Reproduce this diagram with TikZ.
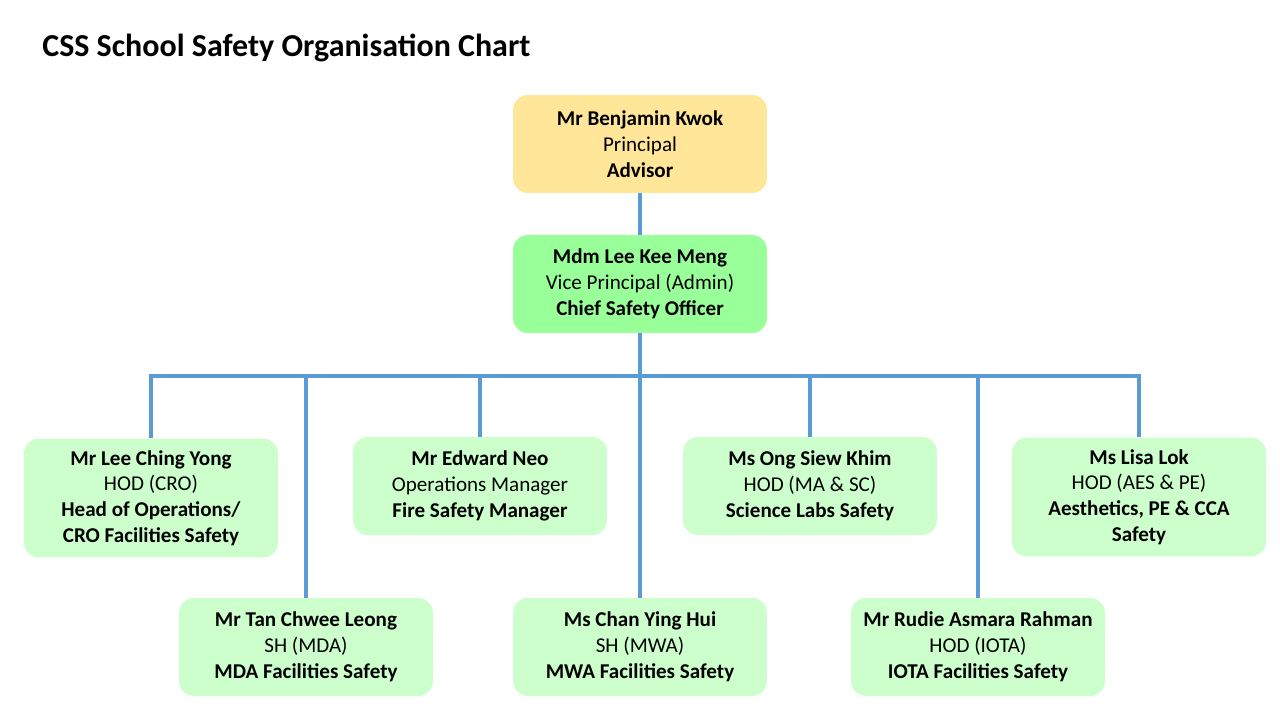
\documentclass[tikz,border=0pt]{standalone}
\usepackage{fontspec}
\setmainfont{Carlito}
\usetikzlibrary{positioning}
\definecolor{boxorange}{HTML}{FFE699}
\definecolor{boxgreen}{HTML}{99FF99}
\definecolor{boxlight}{HTML}{CCFFCC}
\definecolor{linkblue}{HTML}{5B9BD5}

\begin{document}
\begin{tikzpicture}[x=0.02cm, y=-0.02cm,
    card/.style={rectangle, rounded corners=0.3cm, minimum width=5.08cm, minimum height=1.96cm,
        align=center, inner sep=0pt, font=\fontsize{12}{14.7}\selectfont},
    tallcard/.style={card, minimum height=2.38cm},
    link/.style={draw=linkblue, line width=2.3pt}]
    \useasboundingbox (0,0) rectangle (1280,720);

    % Titulo
    \node[anchor=west, inner sep=0pt, font=\fontsize{18.2}{22}\selectfont\bfseries] (title) at (42,48) {CSS School Safety Organisation Chart};

    % Topo
    \node[card, fill=boxorange] (kwok) at (640,144) {\textbf{Mr Benjamin Kwok}\\Principal\\\textbf{Advisor}};
    \node[card, fill=boxgreen] (leekm) at (640,284) {\textbf{Mdm Lee Kee Meng}\\Vice Principal (Admin)\\\textbf{Chief Safety Officer}};

    % Primeira linha
    \node[tallcard, fill=boxlight] (leecy) at (151,498) {\textbf{Mr Lee Ching Yong}\\HOD (CRO)\\\textbf{Head of Operations/}\\\textbf{CRO Facilities Safety}};
    \node[card, fill=boxlight] (neo) at (480,486) {\textbf{Mr Edward Neo}\\Operations Manager\\\textbf{Fire Safety Manager}};
    \node[card, fill=boxlight] (ong) at (810,486) {\textbf{Ms Ong Siew Khim}\\HOD (MA \& SC)\\\textbf{Science Labs Safety}};
    \node[tallcard, fill=boxlight] (lok) at (1139,497) {\textbf{Ms Lisa Lok}\\HOD (AES \& PE)\\\textbf{Aesthetics, PE \& CCA}\\\textbf{Safety}};

    % Segunda linha
    \node[card, fill=boxlight] (tan) at (306,647) {\textbf{Mr Tan Chwee Leong}\\SH (MDA)\\\textbf{MDA Facilities Safety}};
    \node[card, fill=boxlight] (chan) at (640,647) {\textbf{Ms Chan Ying Hui}\\SH (MWA)\\\textbf{MWA Facilities Safety}};
    \node[card, fill=boxlight] (rahman) at (978,647) {\textbf{Mr Rudie Asmara Rahman}\\HOD (IOTA)\\\textbf{IOTA Facilities Safety}};

    % Ligacoes
    \coordinate (bus) at (640,376);
    \draw[link] (kwok) -- (leekm);
    \draw[link] (leekm.south) -- (bus);
    \draw[link] (leecy.north) |- (lok.north |- bus) -- (lok.north);
    \foreach \n in {neo, ong, tan, chan, rahman} {
        \draw[link] (\n.north) -- (\n.north |- bus);
    }
\end{tikzpicture}
\end{document}
